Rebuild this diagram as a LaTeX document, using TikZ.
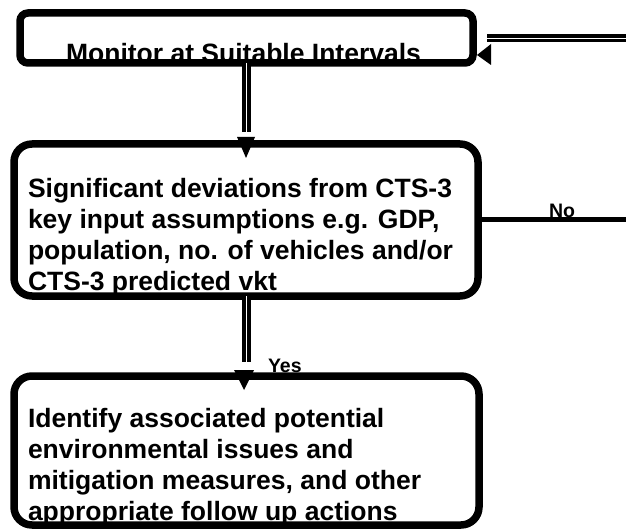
\documentclass[tikz,border=0pt]{standalone}
\usepackage{fontspec}
\setmainfont{Liberation Sans}
\begin{document}
\begin{tikzpicture}[x=1pt,y=-1pt,
  box/.style={draw=black, line width=7.5pt, inner sep=0pt, outer sep=0pt, anchor=north west},
  txt/.style={inner sep=0pt, outer sep=0pt, font=\fontsize{26.5}{31}\selectfont\bfseries, align=left},
  txtb/.style={inner sep=0pt, outer sep=0pt, font=\fontsize{26.5}{30.7}\selectfont\bfseries, align=left},
  lbl/.style={inner sep=0pt, outer sep=0pt, font=\fontsize{19.5}{22}\selectfont\bfseries},
  dline/.style={draw=black, double=white, double distance=0.8pt, line width=3.8pt},
  noline/.style={draw=black, line width=5pt},
  tiphead/.style={fill=black}]
\useasboundingbox (0,0) rectangle (626,529);
% texts
\node[txt, anchor=base] (t1) at (243.5,63) {Monitor at Suitable Intervals};
\node[txt, anchor=north west] (t2) at (28,178) {Significant deviations from CTS-3\\key input assumptions e.g. GDP,\\population, no. of vehicles and/or\\CTS-3 predicted vkt};
\node[txtb, anchor=north west] (t3) at (28,408.7) {Identify associated potential\\environmental issues and\\mitigation measures, and other\\appropriate follow up actions};
% boxes
\node[box, rounded corners=8pt, minimum width=453pt, minimum height=50pt] (b1) at (20,13) {};
\node[box, rounded corners=18pt, minimum width=464pt, minimum height=152pt] (b2) at (14,144) {};
\node[box, rounded corners=18pt, minimum width=465pt, minimum height=149pt] (b3) at (14,376) {};
% connector b1 -> b2
\coordinate (e1) at (246.5,132);
\draw[dline] (b1.south -| e1) -- (e1);
\coordinate (h1) at (246,158);
\fill[tiphead] (h1) -- ++(-9,-21) -- ++(18,0) -- cycle;
% connector b2 -> b3
\coordinate (e2) at (246.5,362);
\draw[dline] (b2.south -| e2) -- (e2);
\coordinate (h2) at (244,390);
\fill[tiphead] (h2) -- ++(-10,-20) -- ++(20,0) -- cycle;
\node[lbl, anchor=base west] (yes) at (268,372) {Yes};
% No branch
\coordinate (r2) at (626,219.5);
\draw[noline] (b2.east |- r2) -- (r2);
\node[lbl, anchor=base] (no) at (562,218) {No};
% return into b1
\coordinate (r1) at (626,38);
\coordinate (a1) at (487,38);
\draw[dline] (r1) -- (a1);
\coordinate (h3) at (477,55);
\fill[tiphead] (h3) -- (491,44) -- (491,65) -- cycle;
\end{tikzpicture}
\end{document}
